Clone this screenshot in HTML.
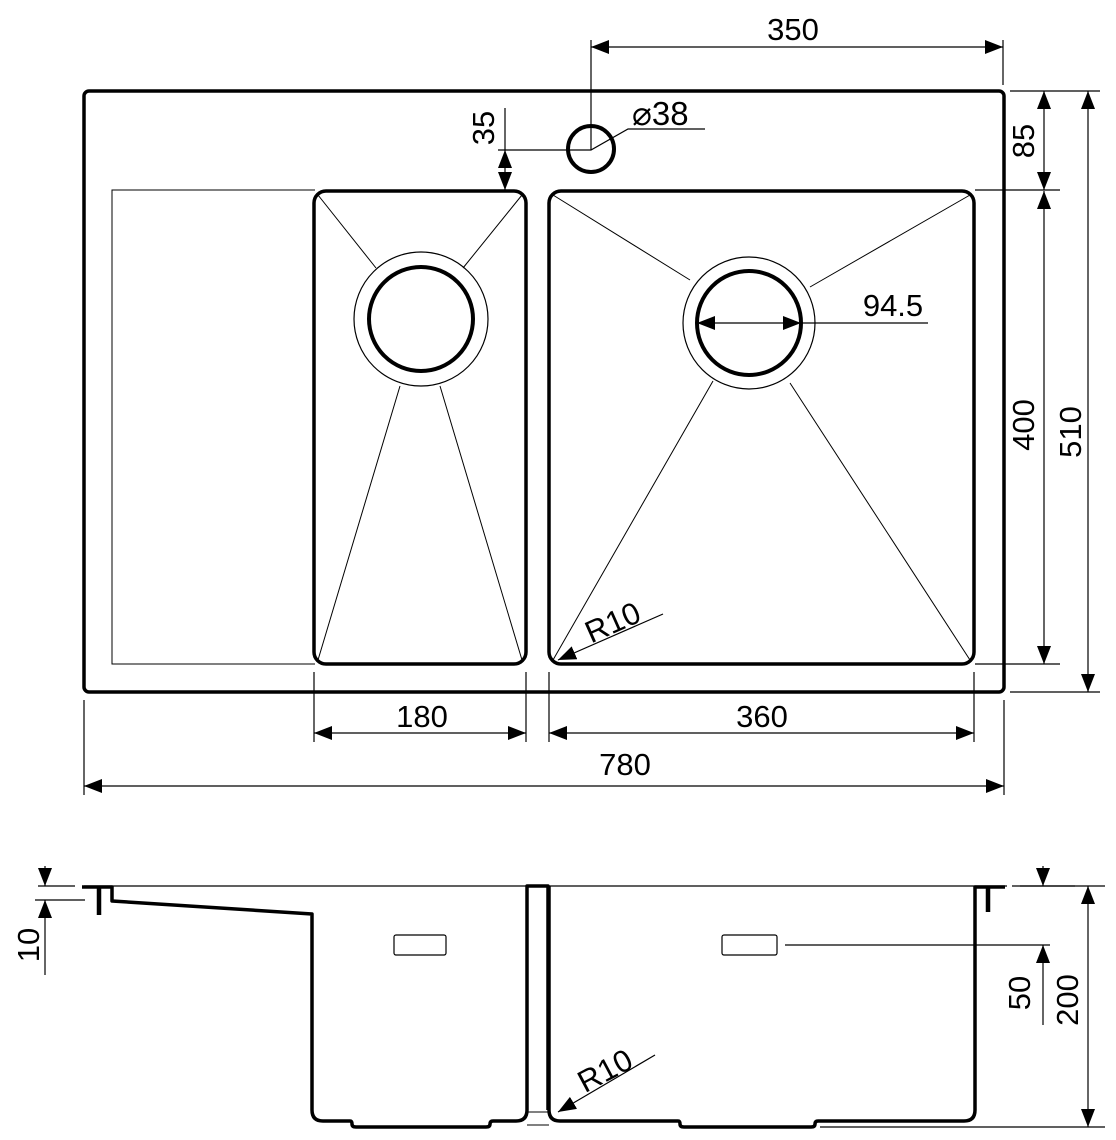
<!DOCTYPE html>
<html><head><meta charset="utf-8"><style>
html,body{margin:0;padding:0;background:#fff;}
svg{display:block}
text{font-family:"Liberation Sans",sans-serif;font-size:31px;fill:#000}
</style></head><body>
<svg width="1116" height="1140" viewBox="0 0 1116 1140" xmlns="http://www.w3.org/2000/svg">
<defs>
<marker id="a" viewBox="0 0 18 14" refX="18" refY="7" markerWidth="18" markerHeight="14" markerUnits="userSpaceOnUse" orient="auto-start-reverse"><path d="M0,0L18,7L0,14Z" fill="#000"/></marker>
</defs>
<g fill="none" stroke="#000">
<rect x="84" y="91" width="920" height="601" rx="5" stroke-width="3.5"/>
<path d="M315,190H112V664H315" stroke-width="1"/>
<rect x="314" y="191" width="212" height="473" rx="12" stroke-width="3.5"/>
<rect x="549" y="191" width="425" height="473" rx="12" stroke-width="3.5"/>
<circle cx="421" cy="319" r="67" stroke-width="1.2"/>
<circle cx="421" cy="319" r="52" stroke-width="4"/>
<circle cx="749" cy="323" r="66" stroke-width="1.2"/>
<circle cx="749" cy="323" r="52" stroke-width="4"/>
<g stroke-width="1">
<path d="M318,195L376,268M522,195L463,268M318,660L400,386M522,660L440,386"/>
<path d="M553,195L690,280M970,195L810,287M553,660L713,381M970,660L790,383"/>
</g>
<circle cx="591" cy="149" r="23" stroke-width="4"/>
<g stroke-width="1.2">
<path d="M591,40V150M1003,40V85"/>
<path d="M591,47H1003" marker-start="url(#a)" marker-end="url(#a)"/>
<path d="M498,150H591L628,129H705"/>
<path d="M505,108V150"/>
<path d="M505,150V190" marker-start="url(#a)" marker-end="url(#a)"/>
<path d="M1010,91H1100M975,190H1060M975,664H1060M1010,692H1100"/>
<path d="M1044,91V190" marker-start="url(#a)" marker-end="url(#a)"/>
<path d="M1044,191V664" marker-start="url(#a)" marker-end="url(#a)"/>
<path d="M1088,91V692" marker-start="url(#a)" marker-end="url(#a)"/>
<path d="M314,672V742M526,672V742M549,672V742M974,672V742M84,700V795M1004,700V795"/>
<path d="M314,733H526" marker-start="url(#a)" marker-end="url(#a)"/>
<path d="M549,733H974" marker-start="url(#a)" marker-end="url(#a)"/>
<path d="M84,786H1004" marker-start="url(#a)" marker-end="url(#a)"/>
<path d="M697,323H801" marker-start="url(#a)" marker-end="url(#a)"/>
<path d="M801,323H928"/>
<path d="M663,614L558,660" marker-end="url(#a)"/>
</g>
<path d="M84,886H1007" stroke-width="1.2"/>
<path d="M82,887H112V901L312,914V1110Q312,1121 323,1121H350Q352,1121 352,1124Q352,1127 356,1127H486Q490,1127 490,1124Q490,1121 493,1121H516Q527,1121 527,1110V886H548V1110" stroke-width="3.5" stroke-linejoin="round"/>
<path d="M99,887V915M988,887V912" stroke-width="4.5"/>
<path d="M549,886V1110Q549,1121 560,1121H678Q680,1121 680,1124Q680,1127 684,1127H811Q815,1127 815,1124Q815,1121 818,1121H964Q975,1121 975,1110V887H1005" stroke-width="3.5" stroke-linejoin="round"/>
<path d="M527,1112H549M527,1125H549" stroke-width="1"/>
<rect x="394" y="935" width="52" height="20" rx="2" stroke-width="1.2"/>
<rect x="722" y="935" width="55" height="20" rx="2" stroke-width="1.2"/>
<g stroke-width="1.2">
<path d="M785,945H1050"/>
<path d="M38,886H75M35,900H85"/>
<path d="M45,866V886" marker-end="url(#a)"/>
<path d="M45,917V900" marker-end="url(#a)"/>
<path d="M45,915V975"/>
<path d="M1012,886H1075"/>
<path d="M1043,866V886" marker-end="url(#a)"/>
<path d="M1043,1025V945" marker-end="url(#a)"/>
<path d="M1020,886H1105M820,1127H1105"/>
<path d="M1088,886V1127" marker-start="url(#a)" marker-end="url(#a)"/>
<path d="M655,1055L558,1112" marker-end="url(#a)"/>
</g>
</g>
<text x="793" y="40" text-anchor="middle">350</text>
<text x="632" y="125" style="font-size:33px">⌀38</text>
<text transform="translate(494,128) rotate(-90)" text-anchor="middle">35</text>
<text transform="translate(1034,141) rotate(-90)" text-anchor="middle">85</text>
<text transform="translate(1034,425) rotate(-90)" text-anchor="middle">400</text>
<text transform="translate(1081,432) rotate(-90)" text-anchor="middle">510</text>
<text x="893" y="316" text-anchor="middle">94.5</text>
<text transform="translate(617,632) rotate(-24)" text-anchor="middle">R10</text>
<text x="422" y="727" text-anchor="middle">180</text>
<text x="762" y="727" text-anchor="middle">360</text>
<text x="625" y="775" text-anchor="middle">780</text>
<text transform="translate(39,945) rotate(-90)" text-anchor="middle">10</text>
<text transform="translate(1030,993) rotate(-90)" text-anchor="middle">50</text>
<text transform="translate(1078,1000) rotate(-90)" text-anchor="middle">200</text>
<text transform="translate(610,1080) rotate(-28)" text-anchor="middle">R10</text>
</svg>
</body></html>
